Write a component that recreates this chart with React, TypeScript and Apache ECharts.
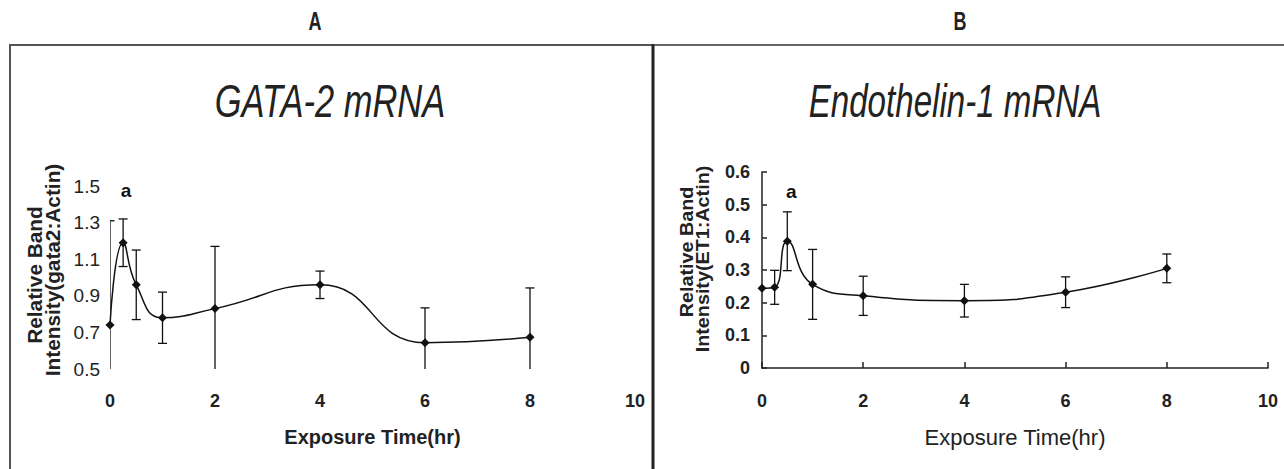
import React, { useEffect, useRef } from "react";
import * as echarts from "echarts";

// ---- data ----
const timesA = [0, 0.25, 0.5, 1, 2, 4, 6, 8];
const meanA = [0.74, 1.19, 0.96, 0.78, 0.83, 0.96, 0.644, 0.673];
const errA = [0.57, 0.13, 0.19, 0.14, 0.34, 0.075, 0.19, 0.27];
const sigIndexA = 1;

const timesB = [0, 0.25, 0.5, 1, 2, 4, 6, 8];
const meanB = [0.244, 0.247, 0.388, 0.256, 0.221, 0.206, 0.232, 0.305];
const errB = [0, 0.052, 0.09, 0.107, 0.06, 0.05, 0.047, 0.044];
const sigIndexB = 2;

const sigLabel = "a";
const panelLabels = ["A", "B"];
const titles = ["GATA-2 mRNA", "Endothelin-1 mRNA"];
const xName = "Exposure Time(hr)";
const yNameA = ["Relative Band", "Intensity(gata2:Actin)"];
const yNameB = ["Relative Band", "Intensity(ET1:Actin)"];
const xRange = [0, 10, 2];
const yRangeA = [0.5, 1.5, 0.2];
const yRangeB = [0, 0.6, 0.1];

const SANS = "'Liberation Sans', Arial, sans-serif";

function errRender(params: any, api: any) {
  const x = api.value(0);
  const m = api.value(1);
  const e = api.value(2);
  if (!e) return { type: "group", children: [] };
  const p1 = api.coord([x, m + e]);
  const p2 = api.coord([x, m - e]);
  const hw = 4.5;
  const st = { stroke: "#111", lineWidth: 1.3 };
  return {
    type: "group",
    children: [
      { type: "line", shape: { x1: p1[0], y1: p1[1], x2: p2[0], y2: p2[1] }, style: st },
      { type: "line", shape: { x1: p1[0] - hw, y1: p1[1], x2: p1[0] + hw, y2: p1[1] }, style: st },
      { type: "line", shape: { x1: p2[0] - hw, y1: p2[1], x2: p2[0] + hw, y2: p2[1] }, style: st },
    ],
  };
}

function lineData(times: number[], means: number[], sig: number, dist: number, off: number[]) {
  return times.map((t, i) =>
    i === sig
      ? {
          value: [t, means[i]],
          label: {
            show: true,
            formatter: sigLabel,
            position: "top",
            distance: dist,
            offset: off,
            fontFamily: SANS,
            fontWeight: "bold",
            fontSize: 19,
            color: "#111",
          },
        }
      : [t, means[i]]
  );
}

function yNameText(lines: string[], xs: number[], ys: number[], size: number) {
  return lines.map((s, i) => ({
    type: "text",
    x: xs[i],
    y: ys[i],
    rotation: Math.PI / 2,
    scaleX: 1.04,
    style: {
      text: s,
      fontFamily: SANS,
      fontWeight: "bold",
      fontSize: size,
      fill: "#222",
      align: "center",
      verticalAlign: "middle",
    },
  }));
}

function textAt(text: string, x: number, y: number, size: number, sx: number, extra: any) {
  return {
    type: "text",
    x,
    y,
    scaleX: sx,
    style: {
      text,
      fontFamily: SANS,
      fontSize: size,
      fill: "#222",
      align: "center",
      verticalAlign: "middle",
      ...extra,
    },
  };
}

export default function App() {
  const ref = useRef<HTMLDivElement>(null);
  useEffect(() => {
    const chart = echarts.init(ref.current!, null, { renderer: "svg" });
    const option: any = {
      animation: false,
      backgroundColor: "#fff",
      grid: [
        { left: 110, top: 186, width: 525, height: 183 },
        { left: 762, top: 172, width: 506, height: 196 },
      ],
      xAxis: [
        {
          gridIndex: 0,
          type: "value",
          min: xRange[0],
          max: xRange[1],
          interval: xRange[2],
          axisLine: { show: false },
          axisTick: { show: false },
          splitLine: { show: false },
          axisLabel: { fontFamily: SANS, fontWeight: "bold", fontSize: 18, color: "#222", margin: 23 },
          name: xName,
          nameLocation: "middle",
          nameGap: 58,
          nameTextStyle: { fontFamily: SANS, fontWeight: "bold", fontSize: 20, color: "#222" },
        },
        {
          gridIndex: 1,
          type: "value",
          min: xRange[0],
          max: xRange[1],
          interval: xRange[2],
          axisLine: { show: true, lineStyle: { color: "#222", width: 1.5 } },
          axisTick: { show: true, inside: true, length: 6, lineStyle: { color: "#222", width: 1.5 } },
          splitLine: { show: false },
          axisLabel: { fontFamily: SANS, fontWeight: "bold", fontSize: 18, color: "#222", margin: 24 },
          name: xName,
          nameLocation: "middle",
          nameGap: 58,
          nameTextStyle: { fontFamily: SANS, fontSize: 22, color: "#222" },
        },
      ],
      yAxis: [
        {
          gridIndex: 0,
          type: "value",
          min: yRangeA[0],
          max: yRangeA[1],
          interval: yRangeA[2],
          axisLine: { show: false },
          axisTick: { show: false },
          splitLine: { show: false },
          axisLabel: {
            fontFamily: SANS,
            fontSize: 19,
            color: "#222",
            margin: 10,
            formatter: (v: number) => v.toFixed(1),
          },
        },
        {
          gridIndex: 1,
          type: "value",
          min: yRangeB[0],
          max: yRangeB[1],
          interval: yRangeB[2],
          axisLine: { show: true, lineStyle: { color: "#222", width: 1.5 } },
          axisTick: { show: true, inside: true, length: 5, lineStyle: { color: "#222", width: 1.5 } },
          splitLine: { show: false },
          axisLabel: {
            fontFamily: SANS,
            fontWeight: "bold",
            fontSize: 18,
            color: "#222",
            margin: 12,
            formatter: (v: number) => (v === 0 ? "0" : v.toFixed(1)),
          },
        },
      ],
      series: [
        {
          type: "custom",
          xAxisIndex: 0,
          yAxisIndex: 0,
          clip: true,
          renderItem: errRender,
          encode: { x: 0, y: 1 },
          data: timesA.map((t, i) => [t, meanA[i], errA[i]]),
          z: 1,
        },
        {
          type: "line",
          xAxisIndex: 0,
          yAxisIndex: 0,
          smooth: 0.5,
          symbol: "diamond",
          symbolSize: 9,
          itemStyle: { color: "#111" },
          lineStyle: { color: "#111", width: 1.5 },
          data: lineData(timesA, meanA, sigIndexA, 38, [3, 0]),
          z: 2,
        },
        {
          type: "custom",
          xAxisIndex: 1,
          yAxisIndex: 1,
          clip: true,
          renderItem: errRender,
          encode: { x: 0, y: 1 },
          data: timesB.map((t, i) => [t, meanB[i], errB[i]]),
          z: 1,
        },
        {
          type: "line",
          xAxisIndex: 1,
          yAxisIndex: 1,
          smooth: 0.5,
          symbol: "diamond",
          symbolSize: 9,
          itemStyle: { color: "#111" },
          lineStyle: { color: "#111", width: 1.5 },
          data: lineData(timesB, meanB, sigIndexB, 36, [4, 0]),
          z: 2,
        },
      ],
      graphic: [
        { type: "line", shape: { x1: 10, y1: 44, x2: 10, y2: 469 }, style: { stroke: "#555", lineWidth: 2 } },
        { type: "line", shape: { x1: 9, y1: 45, x2: 653, y2: 45 }, style: { stroke: "#555", lineWidth: 2 } },
        { type: "line", shape: { x1: 653, y1: 44, x2: 653, y2: 469 }, style: { stroke: "#222", lineWidth: 3 } },
        { type: "line", shape: { x1: 653, y1: 45, x2: 1284, y2: 45 }, style: { stroke: "#333", lineWidth: 1.5 } },
        textAt(panelLabels[0], 315, 21, 25, 0.72, { fontWeight: "bold" }),
        textAt(panelLabels[1], 960, 21, 25, 0.72, { fontWeight: "bold" }),
        textAt(titles[0], 330, 101, 46, 0.75, { fontStyle: "italic" }),
        textAt(titles[1], 955, 101, 46, 0.72, { fontStyle: "italic" }),
        ...yNameText(yNameA, [35, 53], [275, 270], 20),
        ...yNameText(yNameB, [686, 702], [252, 259], 19),
      ],
    };
    chart.setOption(option);
    return () => chart.dispose();
  }, []);
  return (
    <div
      ref={ref}
      style={{ position: "fixed", left: 0, top: 0, width: 1284, height: 469, background: "#fff" }}
    />
  );
}
